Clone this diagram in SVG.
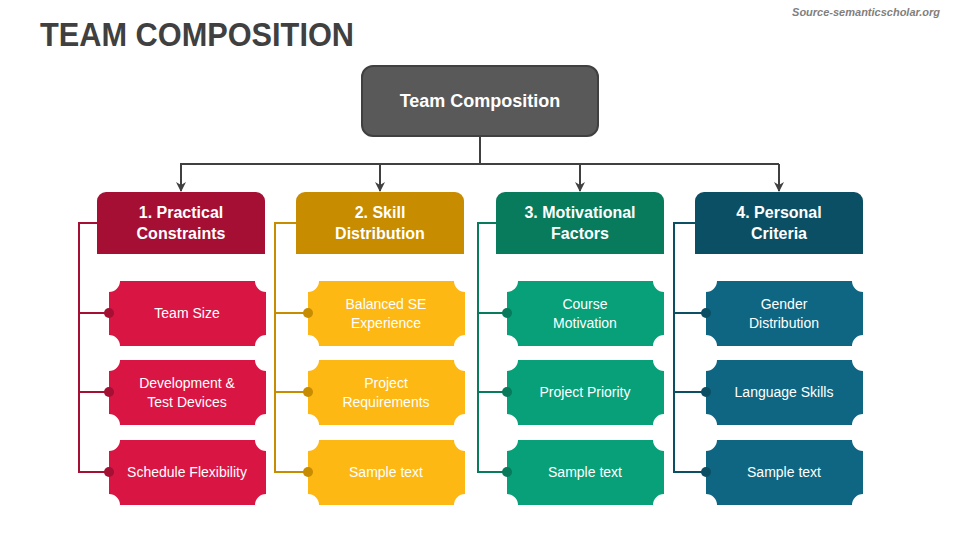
<svg xmlns="http://www.w3.org/2000/svg" width="960" height="540" viewBox="0 0 960 540">
<style>
text{font-family:"Liberation Sans","Open Sans",sans-serif;fill:#fff;text-anchor:middle}
.title{font-size:34px;font-weight:bold;fill:#404040;text-anchor:start}
.src{font-size:11px;font-weight:bold;font-style:italic;fill:#7f7f7f;text-anchor:end}
.root{font-size:18px;font-weight:bold}
.hd{font-size:16px;font-weight:bold}
.it{font-size:14px}
.main{fill:none;stroke:#404040;stroke-width:2}
.c1{stroke:#A50F34}.c2{stroke:#C88C00}.c3{stroke:#077B5C}.c4{stroke:#0B4F64}
.ln{fill:none;stroke-width:2}
</style>
<defs>
<marker id="arr" viewBox="0 0 10 10" refX="9" refY="5" markerWidth="10" markerHeight="10" markerUnits="userSpaceOnUse" orient="auto">
<path d="M0,0 L10,5 L0,10 L3,5 Z" fill="#404040"/>
</marker>
<path id="hdr" d="M9,0 H159 A9,9 0 0 1 168,9 V62 H0 V9 A9,9 0 0 1 9,0 Z"/>
<path id="item" d="M11,0 H146 A11,11 0 0 0 157,11 V54 A11,11 0 0 0 146,65 H11 A11,11 0 0 0 0,54 V11 A11,11 0 0 0 11,0 Z"/>
</defs>
<rect width="960" height="540" fill="#fff"/>
<text class="title" x="40" y="46" textLength="314" lengthAdjust="spacingAndGlyphs">TEAM COMPOSITION</text>
<text class="src" x="940" y="16">Source-semanticscholar.org</text>

<g id="connectors">
<path class="main" d="M480,137 V164"/>
<path class="main" d="M180,164 H779"/>
<path class="main" d="M181,164 V191" marker-end="url(#arr)"/>
<path class="main" d="M380,164 V191" marker-end="url(#arr)"/>
<path class="main" d="M580,164 V191" marker-end="url(#arr)"/>
<path class="main" d="M779,164 V191" marker-end="url(#arr)"/>
<path class="ln c1" d="M97,223 H79 V472 H108 M79,313 H108 M79,392 H108"/>
<path class="ln c2" d="M296,223 H275 V472 H307 M275,313 H307 M275,392 H307"/>
<path class="ln c3" d="M496,223 H478 V472 H507 M478,313 H507 M478,392 H507"/>
<path class="ln c4" d="M695,223 H674 V472 H706 M674,313 H706 M674,392 H706"/>
</g>

<g id="root">
<rect x="362" y="66" width="236" height="70" rx="11" fill="#595959" stroke="#404040" stroke-width="2"/>
<text class="root" x="480" y="107">Team Composition</text>
</g>

<g id="h1" transform="translate(97,192)"><use href="#hdr" fill="#A50F34"/><text class="hd" x="84" y="26">1. Practical</text><text class="hd" x="84" y="47">Constraints</text></g>
<g id="h2" transform="translate(296,192)"><use href="#hdr" fill="#C88C00"/><text class="hd" x="84" y="26">2. Skill</text><text class="hd" x="84" y="47">Distribution</text></g>
<g id="h3" transform="translate(496,192)"><use href="#hdr" fill="#077B5C"/><text class="hd" x="84" y="26">3. Motivational</text><text class="hd" x="84" y="47">Factors</text></g>
<g id="h4" transform="translate(695,192)"><use href="#hdr" fill="#0B4F64"/><text class="hd" x="84" y="26">4. Personal</text><text class="hd" x="84" y="47">Criteria</text></g>

<g id="i11" transform="translate(109,281)"><use href="#item" fill="#D91544"/><circle cx="0" cy="32" r="5" fill="#A50F34"/><text class="it" x="78" y="37">Team Size</text></g>
<g id="i12" transform="translate(109,360)"><use href="#item" fill="#D91544"/><circle cx="0" cy="32" r="5" fill="#A50F34"/><text class="it" x="78" y="28">Development &amp;</text><text class="it" x="78" y="47">Test Devices</text></g>
<g id="i13" transform="translate(109,440)"><use href="#item" fill="#D91544"/><circle cx="0" cy="32" r="5" fill="#A50F34"/><text class="it" x="78" y="37">Schedule Flexibility</text></g>

<g id="i21" transform="translate(308,281)"><use href="#item" fill="#FDB813"/><circle cx="0" cy="32" r="5" fill="#C88C00"/><text class="it" x="78" y="28">Balanced SE</text><text class="it" x="78" y="47">Experience</text></g>
<g id="i22" transform="translate(308,360)"><use href="#item" fill="#FDB813"/><circle cx="0" cy="32" r="5" fill="#C88C00"/><text class="it" x="78" y="28">Project</text><text class="it" x="78" y="47">Requirements</text></g>
<g id="i23" transform="translate(308,440)"><use href="#item" fill="#FDB813"/><circle cx="0" cy="32" r="5" fill="#C88C00"/><text class="it" x="78" y="37">Sample text</text></g>

<g id="i31" transform="translate(507,281)"><use href="#item" fill="#07A079"/><circle cx="0" cy="32" r="5" fill="#077B5C"/><text class="it" x="78" y="28">Course</text><text class="it" x="78" y="47">Motivation</text></g>
<g id="i32" transform="translate(507,360)"><use href="#item" fill="#07A079"/><circle cx="0" cy="32" r="5" fill="#077B5C"/><text class="it" x="78" y="37">Project Priority</text></g>
<g id="i33" transform="translate(507,440)"><use href="#item" fill="#07A079"/><circle cx="0" cy="32" r="5" fill="#077B5C"/><text class="it" x="78" y="37">Sample text</text></g>

<g id="i41" transform="translate(706,281)"><use href="#item" fill="#0E6682"/><circle cx="0" cy="32" r="5" fill="#0B4F64"/><text class="it" x="78" y="28">Gender</text><text class="it" x="78" y="47">Distribution</text></g>
<g id="i42" transform="translate(706,360)"><use href="#item" fill="#0E6682"/><circle cx="0" cy="32" r="5" fill="#0B4F64"/><text class="it" x="78" y="37">Language Skills</text></g>
<g id="i43" transform="translate(706,440)"><use href="#item" fill="#0E6682"/><circle cx="0" cy="32" r="5" fill="#0B4F64"/><text class="it" x="78" y="37">Sample text</text></g>
</svg>
